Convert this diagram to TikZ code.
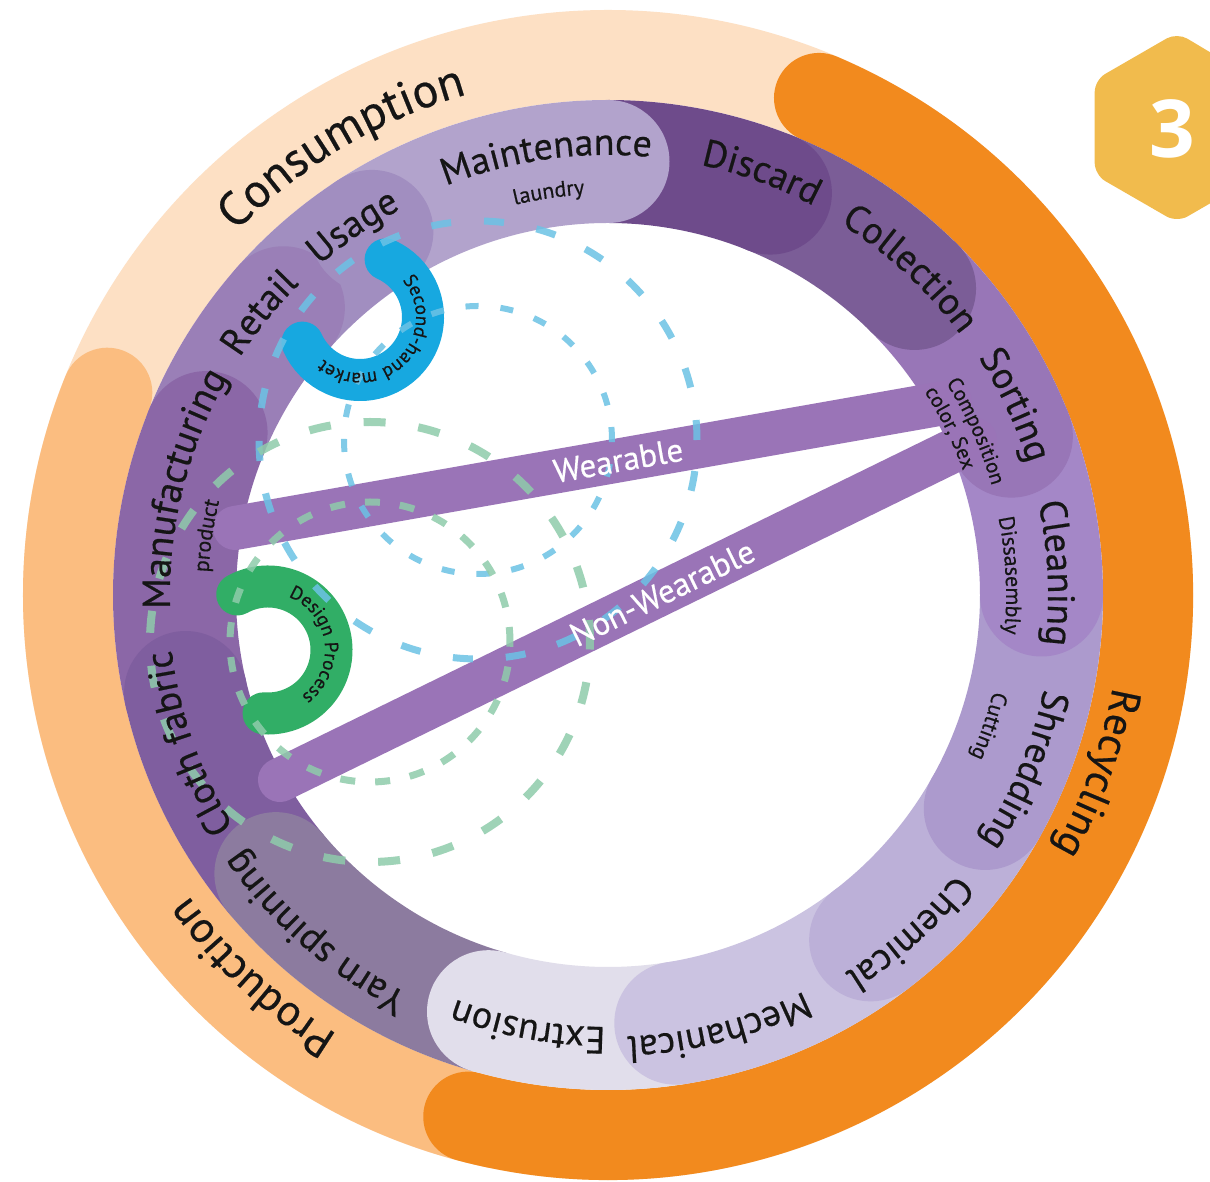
\documentclass[tikz,border=0pt]{standalone}
\usepackage{fontspec}
\setmainfont{PT Sans}[FakeBold=0.5]
\newfontfamily\badgefont{Open Sans}
\usetikzlibrary{decorations.text}

\definecolor{peachlight}{HTML}{FDE0C4}
\definecolor{peachdark}{HTML}{FBBD80}
\definecolor{recycorange}{HTML}{F28A1E}
\definecolor{manufcol}{HTML}{8B67A7}
\definecolor{retailcol}{HTML}{9A7FB7}
\definecolor{usagecol}{HTML}{A18EC0}
\definecolor{maintcol}{HTML}{B2A3CC}
\definecolor{discardcol}{HTML}{6E4B8B}
\definecolor{collectcol}{HTML}{7B5D97}
\definecolor{sortingcol}{HTML}{9876B7}
\definecolor{cleaningcol}{HTML}{A487C7}
\definecolor{shredcol}{HTML}{AC9ACD}
\definecolor{chemcol}{HTML}{BCB0D8}
\definecolor{mechcol}{HTML}{CBC3E1}
\definecolor{extrcol}{HTML}{E1DEEB}
\definecolor{yarncol}{HTML}{8C7B9F}
\definecolor{clothcol}{HTML}{7F5E9F}
\definecolor{barpurple}{HTML}{9A74B7}
\definecolor{shblue}{HTML}{17A8E0}
\definecolor{designgreen}{HTML}{31AE66}
\definecolor{dashblue}{HTML}{6CC2E5}
\definecolor{dashgreen}{HTML}{8FCCAB}
\definecolor{badgeyellow}{HTML}{F1BB4D}
\definecolor{ink}{HTML}{151515}

% text along a clockwise arc round the centre
\newcommand{\arclabel}[4]{%
  \path[decorate, decoration={text along path, text align=center,
      text={|\fontsize{#3}{#3}\selectfont\color{ink}|#4}}]
    ({#1+70}:#2) arc[start angle={#1+70}, end angle={#1-70}, radius=#2];}

\begin{document}
\begin{tikzpicture}[x=1pt, y=1pt,
    band/.style={line width=123pt},
    bar/.style={line width=44pt, color=barpurple, line cap=round},
    loopband/.style={line width=42pt, line cap=round},
    bartext/.style={text=white, font=\fontsize{33}{33}\selectfont, sloped}]
  \useasboundingbox (-608,-587) rectangle (602,595);
  \clip (-608,-587) rectangle (602,595);
  \fill[white] (-608,-587) rectangle (602,595);

  % Outer ring
  \draw[line width=90pt, peachlight] (0,0) circle[radius=540];
  \draw[line width=90pt, peachdark, line cap=round] (158:540) arc[start angle=158, end angle=258, radius=540];
  \draw[line width=90pt, recycorange, line cap=round] (67:540) arc[start angle=67, end angle=-105, radius=540];

  % Stages
  \draw[band, manufcol] (193:433.5) arc[start angle=193, end angle=158, radius=433.5];
  \draw[band, retailcol] (158:433.5) arc[start angle=158, end angle=138.5, radius=433.5];
  \draw[band, usagecol] (138.5:433.5) arc[start angle=138.5, end angle=123, radius=433.5];
  \draw[band, maintcol] (123:433.5) arc[start angle=123, end angle=90, radius=433.5];
  \draw[band, discardcol] (90:433.5) arc[start angle=90, end angle=68, radius=433.5];
  \draw[band, collectcol] (68:433.5) arc[start angle=68, end angle=45, radius=433.5];
  \draw[band, sortingcol] (45:433.5) arc[start angle=45, end angle=21.5, radius=433.5];
  \draw[band, cleaningcol] (21.5:433.5) arc[start angle=21.5, end angle=0, radius=433.5];
  \draw[band, shredcol] (0:433.5) arc[start angle=0, end angle=-29.5, radius=433.5];
  \draw[band, chemcol] (-29.5:433.5) arc[start angle=-29.5, end angle=-52.7, radius=433.5];
  \draw[band, mechcol] (-52.7:433.5) arc[start angle=-52.7, end angle=-81, radius=433.5];
  \draw[band, extrcol] (-81:433.5) arc[start angle=-81, end angle=-106, radius=433.5];
  \draw[band, yarncol] (-106:433.5) arc[start angle=-106, end angle=-140, radius=433.5];
  \draw[band, clothcol] (-140:433.5) arc[start angle=-140, end angle=-167, radius=433.5];

  % Rounded ends
  \fill[manufcol] (158:433.5) circle[radius=61.5];
  \fill[retailcol] (138.5:433.5) circle[radius=61.5];
  \fill[usagecol] (123:433.5) circle[radius=61.5];
  \fill[maintcol] (90:433.5) circle[radius=61.5];
  \fill[discardcol] (68:433.5) circle[radius=61.5];
  \fill[collectcol] (45:433.5) circle[radius=61.5];
  \fill[sortingcol] (21.5:433.5) circle[radius=61.5];
  \fill[cleaningcol] (0:433.5) circle[radius=61.5];
  \fill[shredcol] (-29.5:433.5) circle[radius=61.5];
  \fill[chemcol] (-52.7:433.5) circle[radius=61.5];
  \fill[mechcol] (-81:433.5) circle[radius=61.5];
  \fill[extrcol] (-106:433.5) circle[radius=61.5];
  \fill[yarncol] (-140:433.5) circle[radius=61.5];
  \fill[clothcol] (-167:433.5) circle[radius=61.5];

  % Bars
  \coordinate (wearL) at (-373,67);
  \coordinate (wearR) at (342,193);
  \coordinate (nonwL) at (-328,-185);
  \coordinate (nonwR) at (367,155);
  \draw[bar] (wearL) -- (wearR);
  \draw[bar] (nonwL) -- (nonwR);

  % Loops
  \coordinate (shm) at (-248,278);
  \coordinate (dsg) at (-340,-55);
  \draw[loopband, shblue] ([shift={(66:63)}]shm) arc[start angle=66, end angle=-156, radius=63];
  \draw[loopband, designgreen] ([shift={(119:63.5)}]dsg) arc[start angle=119, end angle=-94, radius=63.5];

  % Dashed circles
  \coordinate (bluec) at (-130,155);
  \coordinate (greenc) at (-238,-47);
  \draw[dashblue, draw opacity=0.85, line width=7pt, dash pattern=on 20pt off 33pt] (bluec) circle[radius=219];
  \draw[dashblue, draw opacity=0.85, line width=6pt, dash pattern=on 13pt off 22pt] (bluec) circle[radius=134];
  \draw[dashgreen, draw opacity=0.85, line width=8pt, dash pattern=on 22pt off 33pt] (greenc) circle[radius=220];
  \draw[dashgreen, draw opacity=0.85, line width=7pt, dash pattern=on 15pt off 20pt] (greenc) circle[radius=140];

  % Labels
  \arclabel{120.7}{520}{48}{Consumption}
  \arclabel{227}{516}{44}{Production}
  \arclabel{-20}{513}{42}{Recycling}

  \arclabel{166}{438}{39}{Manufacturing}
  \arclabel{141}{438}{38}{Retail}
  \arclabel{124.7}{438}{38}{Usage}
  \arclabel{98}{440}{38}{Maintenance}
  \arclabel{70}{440}{38}{Discard}
  \arclabel{47.2}{438}{38}{Collection}
  \arclabel{25}{440}{38}{Sorting}
  \arclabel{2.8}{440}{38}{Cleaning}
  \arclabel{-22.8}{446}{38}{Shredding}
  \arclabel{-48.3}{446}{38}{Chemical}
  \arclabel{-75.6}{442}{38}{Mechanical}
  \arclabel{-100.5}{432}{38}{Extrusion}
  \arclabel{-131}{446}{38}{Yarn spinning}
  \arclabel{-160.5}{440}{38}{Cloth fabric}

  \arclabel{171.6}{400}{22}{product}
  \arclabel{98.4}{401}{22}{laundry}
  \arclabel{24}{399}{21}{Composition}
  \arclabel{26}{376}{21}{color, Sex}
  \arclabel{2.8}{398}{22}{Dissasembly}
  \arclabel{-19}{397}{22}{Cutting}

  \path[decorate, decoration={text along path, text align=center,
      text={|\fontsize{19}{19}\selectfont\color{ink}|Second-hand market}}]
    ([shift={(75:56)}]shm) arc[start angle=75, end angle=-165, radius=56];
  \path[decorate, decoration={text along path, text align=center,
      text={|\fontsize{19}{19}\selectfont\color{ink}|Design Process}}]
    ([shift={(107.6:57)}]dsg) arc[start angle=107.6, end angle=-92.4, radius=57];

  \path (wearL) -- (wearR) node[bartext, pos=0.536] (wearlabel) {Wearable};
  \path (nonwL) -- (nonwR) node[bartext, pos=0.55] (nonwearlabel) {Non-Wearable};

  % Badge
  \fill[badgeyellow, rounded corners=12pt] (610,538) -- (569,562.5) -- (486.7,515) -- (486.7,420) -- (569,372.5) -- (651.3,420) -- (651.3,515) -- cycle;
  \node[text=white, font=\badgefont\bfseries\fontsize{80}{80}\selectfont] (three) at (564,466) {3};
\end{tikzpicture}
\end{document}
